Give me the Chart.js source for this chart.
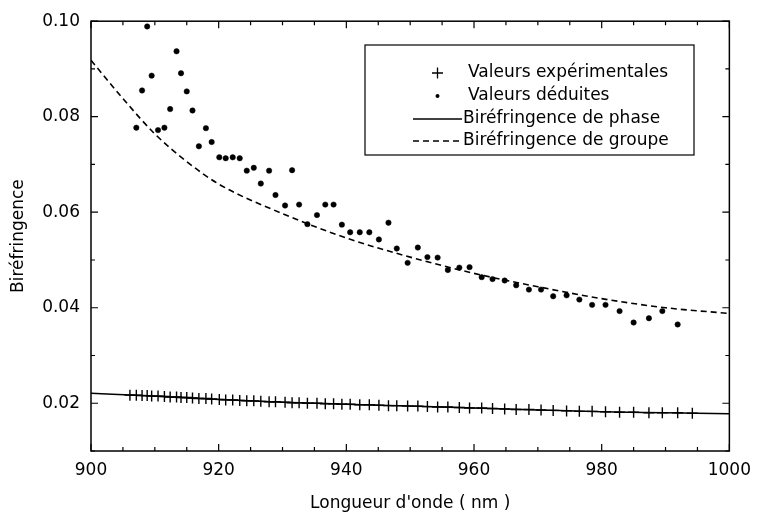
<!DOCTYPE html>
<html>
<head>
<meta charset="utf-8">
<script src="https://cdn.jsdelivr.net/npm/chart.js@4.4.1/dist/chart.umd.min.js"></script>
<style>
  html, body { margin: 0; padding: 0; background: #fff; }
</style>
</head>
<body>
<canvas id="chart" width="760" height="518"></canvas>
<script>
// Experimental points (+), wavelength in nm
const expWavelengths = [906.1, 907.1, 908.0, 908.8, 909.5, 910.5, 911.5, 912.4, 913.4, 914.1,
  915.0, 915.9, 916.9, 918.0, 918.9, 920.1, 921.1, 922.2, 923.3, 924.4,
  925.5, 926.6, 927.9, 928.9, 930.4, 931.5, 932.6, 933.9, 935.4, 936.7,
  938.0, 939.3, 940.6, 942.1, 943.6, 945.1, 946.6, 947.9, 949.6, 951.2,
  952.7, 954.3, 955.9, 957.7, 959.3, 961.2, 962.9, 964.8, 966.6, 968.6,
  970.5, 972.4, 974.5, 976.5, 978.5, 980.6, 982.8, 985.0, 987.4, 989.5,
  991.9, 994.2];
const expValues = [0.0217, 0.0217, 0.0216, 0.0216, 0.0215, 0.0215, 0.0214, 0.0213, 0.0213, 0.0212,
  0.0212, 0.0211, 0.0210, 0.0210, 0.0209, 0.0208, 0.0207, 0.0207, 0.0206, 0.0205,
  0.0205, 0.0204, 0.0203, 0.0203, 0.0202, 0.0201, 0.0201, 0.0200, 0.0200, 0.0199,
  0.0199, 0.0198, 0.0198, 0.0197, 0.0197, 0.0196, 0.0195, 0.0195, 0.0194, 0.0194,
  0.0193, 0.0192, 0.0192, 0.0191, 0.0190, 0.0190, 0.0189, 0.0188, 0.0187, 0.0187,
  0.0186, 0.0185, 0.0184, 0.0183, 0.0183, 0.0182, 0.0181, 0.0181, 0.0180, 0.0180,
  0.0180, 0.0179];

// Deduced values (dots)
const dedWavelengths = [907.1, 908.0, 908.8, 909.5, 910.5, 911.5, 912.4, 913.4, 914.1, 915.0,
  915.9, 916.9, 918.0, 918.9, 920.1, 921.1, 922.2, 923.3, 924.4, 925.5,
  926.6, 927.9, 928.9, 930.4, 931.5, 932.6, 933.9, 935.4, 936.7, 938.0,
  939.3, 940.6, 942.1, 943.6, 945.1, 946.6, 947.9, 949.6, 951.2, 952.7,
  954.3, 955.9, 957.7, 959.3, 961.2, 962.9, 964.8, 966.6, 968.6, 970.5,
  972.4, 974.5, 976.5, 978.5, 980.6, 982.8, 985.0, 987.4, 989.5, 991.9];
const dedValues = [0.0777, 0.0855, 0.0989, 0.0886, 0.0772, 0.0777, 0.0816, 0.0937, 0.0891, 0.0853,
  0.0813, 0.0738, 0.0776, 0.0747, 0.0715, 0.0713, 0.0715, 0.0713, 0.0687, 0.0693,
  0.0660, 0.0687, 0.0636, 0.0614, 0.0688, 0.0616, 0.0575, 0.0594, 0.0616, 0.0616,
  0.0574, 0.0558, 0.0558, 0.0558, 0.0543, 0.0578, 0.0524, 0.0494, 0.0526, 0.0506,
  0.0505, 0.0479, 0.0484, 0.0485, 0.0464, 0.0460, 0.0457, 0.0447, 0.0438, 0.0438,
  0.0424, 0.0426, 0.0417, 0.0406, 0.0406, 0.0393, 0.0369, 0.0378, 0.0393, 0.0365];

// Phase birefringence (solid)
const phaseWavelengths = [900, 910, 920, 930, 940, 950, 960, 970, 980, 990, 1000];
const phaseValues = [0.0221, 0.0215, 0.0208, 0.0202, 0.0198, 0.0194, 0.0190, 0.0186, 0.0182, 0.0180, 0.0178];

// Group birefringence (dashed)
const groupWavelengths = [900, 905, 910, 915, 920, 930, 940, 950, 960, 970, 980, 990, 1000];
const groupValues = [0.0918, 0.0838, 0.0764, 0.0706, 0.0659, 0.0597, 0.0546, 0.0506, 0.0472, 0.0444, 0.0419, 0.0400, 0.0388];

const xTicks = [900, 920, 940, 960, 980, 1000];
const yTicks = [0.02, 0.04, 0.06, 0.08, 0.10];

const FONT = 'DejaVu Sans';

function toPoints(xs, ys) {
  return xs.map((x, i) => ({ x: x, y: ys[i] }));
}

// frame with inward ticks on all four sides
const framePlugin = {
  id: 'frame',
  afterDatasetsDraw(chart) {
    const ctx = chart.ctx;
    const a = chart.chartArea;
    const xs = chart.scales.x, ys = chart.scales.y;
    ctx.save();
    ctx.strokeStyle = '#000';
    ctx.lineWidth = 1.5;
    ctx.strokeRect(a.left, a.top, a.right - a.left, a.bottom - a.top);
    ctx.lineWidth = 1.2;
    ctx.beginPath();
    for (let v = xs.min; v <= xs.max + 0.001; v += 5) {
      const len = (Math.round(v) % 20 === 0) ? 7 : 4;
      const px = xs.getPixelForValue(v);
      ctx.moveTo(px, a.bottom); ctx.lineTo(px, a.bottom - len);
      ctx.moveTo(px, a.top); ctx.lineTo(px, a.top + len);
    }
    for (let k = 1; k <= 10; k++) {
      const v = k / 100;
      const len = (k % 2 === 0) ? 7 : 4;
      const py = ys.getPixelForValue(v);
      ctx.moveTo(a.left, py); ctx.lineTo(a.left + len, py);
      ctx.moveTo(a.right, py); ctx.lineTo(a.right - len, py);
    }
    ctx.stroke();
    ctx.restore();
  }
};

// legend box drawn inside the plot
const legendPlugin = {
  id: 'boxLegend',
  afterDraw(chart) {
    const ctx = chart.ctx;
    ctx.save();
    ctx.strokeStyle = '#000';
    ctx.lineWidth = 1.2;
    ctx.strokeRect(365, 45, 329, 110);
    ctx.fillStyle = '#000';
    ctx.font = '17px "' + FONT + '"';
    ctx.textBaseline = 'middle';
    ctx.textAlign = 'left';

    // +
    ctx.lineWidth = 1.3;
    ctx.beginPath();
    ctx.moveTo(432, 73); ctx.lineTo(443, 73);
    ctx.moveTo(437.5, 67.5); ctx.lineTo(437.5, 78.5);
    ctx.stroke();
    ctx.fillText('Valeurs expérimentales', 468, 73);

    // dot
    ctx.beginPath();
    ctx.arc(437.5, 96, 2, 0, Math.PI * 2);
    ctx.fill();
    ctx.fillText('Valeurs déduites', 468, 96);

    // solid
    ctx.lineWidth = 1.5;
    ctx.beginPath();
    ctx.moveTo(413, 119); ctx.lineTo(462, 119);
    ctx.stroke();
    ctx.fillText('Biréfringence de phase', 463, 119);

    // dashed
    ctx.setLineDash([6, 4]);
    ctx.beginPath();
    ctx.moveTo(413, 141); ctx.lineTo(462, 141);
    ctx.stroke();
    ctx.setLineDash([]);
    ctx.fillText('Biréfringence de groupe', 463, 141);
    ctx.restore();
  }
};

new Chart(document.getElementById('chart'), {
  type: 'scatter',
  data: {
    datasets: [
      {
        label: 'Biréfringence de phase',
        data: toPoints(phaseWavelengths, phaseValues),
        showLine: true,
        borderColor: '#000',
        borderWidth: 1.5,
        pointRadius: 0,
        cubicInterpolationMode: 'monotone'
      },
      {
        label: 'Biréfringence de groupe',
        data: toPoints(groupWavelengths, groupValues),
        showLine: true,
        borderColor: '#000',
        borderWidth: 1.6,
        borderDash: [6, 4],
        pointRadius: 0,
        cubicInterpolationMode: 'monotone'
      },
      {
        label: 'Valeurs expérimentales',
        data: toPoints(expWavelengths, expValues),
        pointStyle: 'cross',
        pointRadius: 5.5,
        borderColor: '#000',
        borderWidth: 1.4,
        showLine: false
      },
      {
        label: 'Valeurs déduites',
        data: toPoints(dedWavelengths, dedValues),
        pointStyle: 'circle',
        pointRadius: 2.7,
        backgroundColor: '#000',
        borderColor: '#000',
        borderWidth: 0.5,
        showLine: false
      }
    ]
  },
  options: {
    responsive: false,
    animation: false,
    devicePixelRatio: 1,
    layout: { padding: { top: 20, right: 23, bottom: 0, left: 0 } },
    plugins: {
      legend: { display: false },
      tooltip: { enabled: false }
    },
    scales: {
      x: {
        type: 'linear',
        min: 900,
        max: 1000,
        afterBuildTicks: scale => { scale.ticks = xTicks.map(v => ({ value: v })); },
        afterFit: scale => { scale.height = 67; },
        grid: { display: false, drawTicks: false },
        border: { display: false },
        ticks: {
          color: '#000',
          padding: 9,
          font: { family: FONT, size: 17 },
          callback: v => String(v)
        },
        title: {
          display: true,
          text: "Longueur d'onde ( nm )",
          color: '#000',
          font: { family: FONT, size: 17 },
          padding: { top: 0, bottom: 4 }
        }
      },
      y: {
        type: 'linear',
        min: 0.01,
        max: 0.10,
        afterBuildTicks: scale => { scale.ticks = yTicks.map(v => ({ value: v })); },
        afterFit: scale => { scale.width = 91; },
        grid: { display: false, drawTicks: false },
        border: { display: false },
        ticks: {
          color: '#000',
          padding: 11,
          font: { family: FONT, size: 17 },
          callback: v => v.toFixed(2)
        },
        title: {
          display: true,
          text: 'Biréfringence',
          color: '#000',
          font: { family: FONT, size: 17 },
          padding: { top: 8, bottom: 0 }
        }
      }
    }
  },
  plugins: [framePlugin, legendPlugin]
});
</script>
</body>
</html>
